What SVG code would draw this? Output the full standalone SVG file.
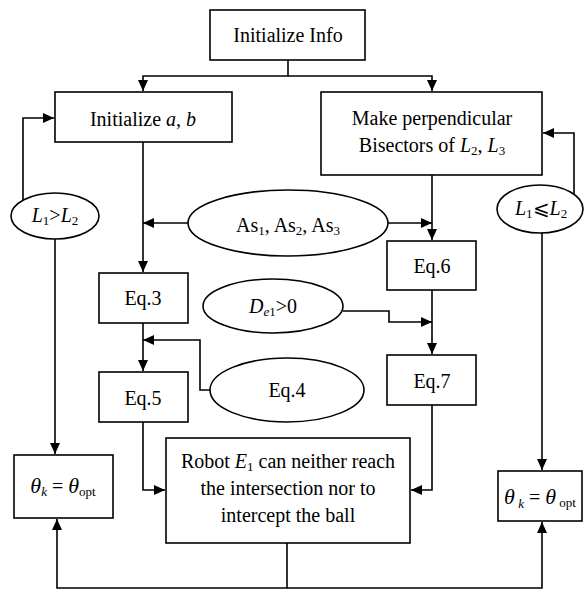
<svg xmlns="http://www.w3.org/2000/svg" width="584" height="591" viewBox="0 0 584 591">
<style>
.box{fill:#fff;stroke:#000;stroke-width:1.6}
.c{fill:none;stroke:#000;stroke-width:1.6}
text{font-family:"Liberation Serif","Times New Roman","DejaVu Serif",serif;font-size:20px;fill:#000;text-anchor:middle}
.i{font-style:italic}
.s{font-size:13px}
</style>
<defs>
<marker id="a" markerUnits="userSpaceOnUse" markerWidth="12" markerHeight="10" refX="11" refY="5" orient="auto">
<path d="M0,0 L11,5 L0,10 z" fill="#000"/>
</marker>
</defs>
<g id="connectors">
<path class="c" d="M288,60 V76 H143 V91" marker-end="url(#a)"/>
<path class="c" d="M288,76 H432 V91" marker-end="url(#a)"/>
<path class="c" d="M143,142 V272" marker-end="url(#a)"/>
<path class="c" d="M188,223 H143" marker-end="url(#a)"/>
<path class="c" d="M388,223 H432" marker-end="url(#a)"/>
<path class="c" d="M432,175 V240" marker-end="url(#a)"/>
<path class="c" d="M432,290 V354" marker-end="url(#a)"/>
<path class="c" d="M343,311 H389 V322 H432" marker-end="url(#a)"/>
<path class="c" d="M143,323 V371" marker-end="url(#a)"/>
<path class="c" d="M210,390 H200 V340 H143" marker-end="url(#a)"/>
<path class="c" d="M143,422 V490 H165" marker-end="url(#a)"/>
<path class="c" d="M432,405 V490 H411" marker-end="url(#a)"/>
<path class="c" d="M287,543 V588 H57 V519" marker-end="url(#a)"/>
<path class="c" d="M287,588 H542 V522" marker-end="url(#a)"/>
<path class="c" d="M23,200 V118 H54" marker-end="url(#a)"/>
<path class="c" d="M55,239 V454" marker-end="url(#a)"/>
<path class="c" d="M574,194 V133 H543" marker-end="url(#a)"/>
<path class="c" d="M542,233 V470" marker-end="url(#a)"/>
</g>
<g id="initInfo">
<rect class="box" x="210" y="10" width="155" height="50"/>
<text x="288" y="42">Initialize Info</text>
</g>
<g id="initAB">
<rect class="box" x="55" y="92" width="177" height="50"/>
<text x="143" y="126">Initialize <tspan class="i">a</tspan>, <tspan class="i">b</tspan></text>
</g>
<g id="makePerp">
<rect class="box" x="321" y="92" width="221" height="83"/>
<text x="432" y="125">Make perpendicular</text>
<text x="432" y="152">Bisectors of <tspan class="i">L</tspan><tspan class="s" dy="3">2</tspan><tspan dy="-3">, </tspan><tspan class="i">L</tspan><tspan class="s" dy="3">3</tspan></text>
</g>
<g id="condLeft">
<ellipse class="box" cx="55" cy="216" rx="44" ry="23"/>
<text x="55" y="222"><tspan class="i">L</tspan><tspan class="s" dy="3">1</tspan><tspan dy="-3">&gt;</tspan><tspan class="i">L</tspan><tspan class="s" dy="3">2</tspan></text>
</g>
<g id="condRight">
<ellipse class="box" cx="540" cy="209" rx="43" ry="24"/>
<text x="541" y="215"><tspan class="i">L</tspan><tspan class="s" dy="3">1</tspan><tspan dy="-3">⩽</tspan><tspan class="i">L</tspan><tspan class="s" dy="3">2</tspan></text>
</g>
<g id="as">
<ellipse class="box" cx="288" cy="223" rx="100" ry="33"/>
<text x="288" y="232">As<tspan class="s" dy="3">1</tspan><tspan dy="-3">, As</tspan><tspan class="s" dy="3">2</tspan><tspan dy="-3">, As</tspan><tspan class="s" dy="3">3</tspan></text>
</g>
<g id="eq3">
<rect class="box" x="99" y="273" width="89" height="50"/>
<text x="143" y="305">Eq.3</text>
</g>
<g id="de1">
<ellipse class="box" cx="273" cy="306" rx="70" ry="27"/>
<text x="273" y="313"><tspan class="i">D</tspan><tspan class="s" dy="3"><tspan class="i">e</tspan>1</tspan><tspan dy="-3">&gt;0</tspan></text>
</g>
<g id="eq6">
<rect class="box" x="387" y="241" width="89" height="49"/>
<text x="432" y="273">Eq.6</text>
</g>
<g id="eq4">
<ellipse class="box" cx="287" cy="390" rx="77" ry="32"/>
<text x="287" y="397">Eq.4</text>
</g>
<g id="eq5">
<rect class="box" x="99" y="372" width="89" height="50"/>
<text x="143" y="405">Eq.5</text>
</g>
<g id="eq7">
<rect class="box" x="387" y="355" width="89" height="50"/>
<text x="432" y="388">Eq.7</text>
</g>
<g id="robot">
<rect class="box" x="166" y="438" width="244" height="105"/>
<text x="288" y="468">Robot <tspan class="i">E</tspan><tspan class="s" dy="3">1</tspan><tspan dy="-3"> can neither reach</tspan></text>
<text x="288" y="495">the intersection nor to</text>
<text x="288" y="522">intercept the ball</text>
</g>
<g id="thetaLeft">
<rect class="box" x="14" y="455" width="99" height="63"/>
<text x="63" y="493"><tspan class="i" font-size="22">θ</tspan><tspan class="i s" dy="3">k</tspan><tspan dy="-3"> = </tspan><tspan class="i" font-size="22">θ</tspan><tspan class="s" dy="3">opt</tspan></text>
</g>
<g id="thetaRight">
<rect class="box" x="498" y="471" width="84" height="50"/>
<text x="540" y="504"><tspan class="i" font-size="22">θ</tspan><tspan class="i s" dy="4"> k</tspan><tspan dy="-4"> = </tspan><tspan class="i" font-size="22">θ</tspan><tspan class="s" dy="3"> opt</tspan></text>
</g>
</svg>
